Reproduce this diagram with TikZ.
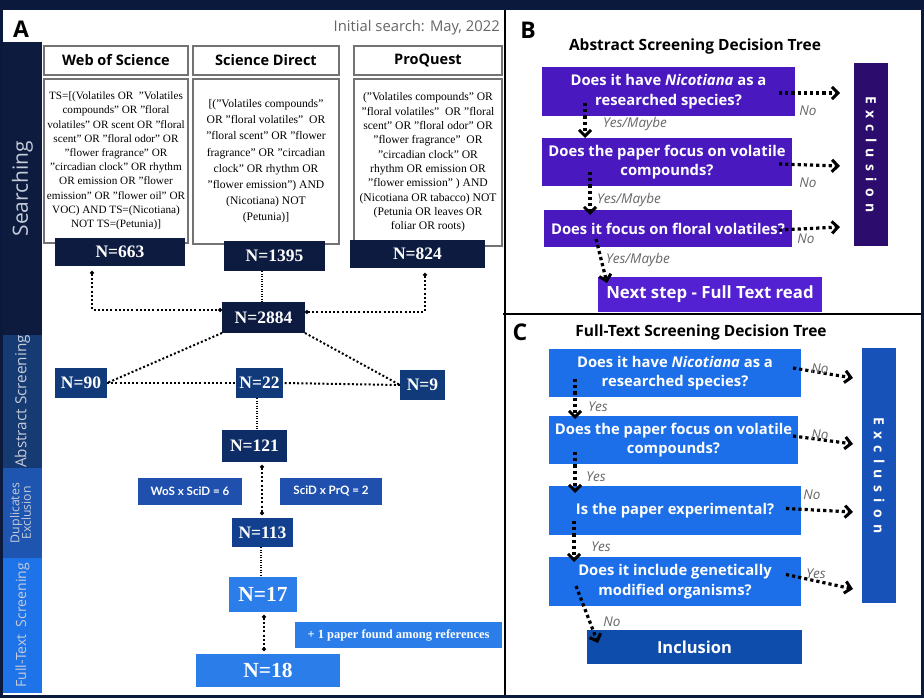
\documentclass[tikz,border=0pt]{standalone}
\usepackage{fontspec}
\setmainfont{Liberation Serif}
\setsansfont{Open Sans}
\newfontfamily\latofont{Lato}
\newfontfamily\exfont[LetterSpace=45]{Open Sans}
\usetikzlibrary{arrows.meta,calc}
\definecolor{frame}{HTML}{0B1A3C}
\definecolor{cSearch}{HTML}{0D1B3E}
\definecolor{cAbs}{HTML}{163A72}
\definecolor{cDup}{HTML}{1D55B0}
\definecolor{cFull}{HTML}{1F73E8}
\definecolor{navy}{HTML}{0C1B3F}
\definecolor{absblue}{HTML}{113A7B}
\definecolor{c121}{HTML}{0E2D66}
\definecolor{dupbox}{HTML}{1F50AE}
\definecolor{c113}{HTML}{12408E}
\definecolor{ftblue}{HTML}{2B7DEA}
\definecolor{purp}{HTML}{4A18BF}
\definecolor{purpD}{HTML}{2C0C6C}
\definecolor{purpN}{HTML}{5320D2}
\definecolor{cblue}{HTML}{1C6FE8}
\definecolor{cexc}{HTML}{1652B8}
\definecolor{cinc}{HTML}{0F4DAC}
\definecolor{labgray}{HTML}{666666}
\definecolor{sidetext}{HTML}{C5CBD8}
\newcommand{\mybox}[7]{\node[#6, minimum width={(#4-#2)*1pt}, minimum height={(#5-#3)*1pt}] (#1) at ({(#2+#4)/2},{(#3+#5)/2}) {#7};}
\tikzset{
  base/.style={inner sep=0pt, outer sep=0pt, align=center},
  side/.style={base, fill=#1, text=sidetext, font=\sffamily},
  titlebox/.style={base, draw=black!55, line width=1.5pt, fill=white, font=\sffamily\bfseries\fontsize{14.5}{17}\selectfont},
  qbox/.style={base, draw=black!55, line width=1.5pt, fill=white},
  nbox/.style={base, fill=#1, text=white, font=\bfseries\fontsize{17.5}{19}\selectfont},
  dbox/.style={base, fill=#1, text=white, font=\latofont\bfseries\fontsize{11.6}{13}\selectfont},
  qbx/.style={base, fill=#1, text=white, font=\sffamily\bfseries\fontsize{14.8}{19.5}\selectfont},
  exbar/.style={base, fill=#1, text=white, font=\exfont\bfseries\fontsize{14}{16}\selectfont},
  conA/.style={line width=2pt, dash pattern=on 2pt off 2.2pt},
  conT/.style={line width=1.2pt, dash pattern=on 1.2pt off 1.3pt},
  dotends/.style={{Circle[length=3.8pt]}-{Circle[length=3.8pt]}},
  arrB/.style={line width=3.2pt, dash pattern=on 3.2pt off 3pt, -{Straight Barb[length=6pt,width=12pt,line width=3pt]}},
  lab/.style={inner sep=0pt, text=labgray, font=\sffamily\itshape\fontsize{13.5}{15}\selectfont},
  panel/.style={inner sep=0pt, font=\sffamily\bfseries\fontsize{23}{25}\selectfont},
  ptitle/.style={inner sep=0pt, font=\sffamily\bfseries\fontsize{15.5}{18}\selectfont}
}
\begin{document}
\begin{tikzpicture}[x=1pt,y=-1pt]
\useasboundingbox (0,0) rectangle (924,698);
\fill[frame] (0,0) rectangle (924,698);
\fill[white] (3,10) rectangle (921,695);

% ---------- Panel A ----------
\mybox{sSearch}{3}{42}{42}{335}{side=cSearch}{\rotatebox{90}{\fontsize{21}{23}\selectfont Searching}}
\mybox{sAbs}{3}{335}{42}{468}{side=cAbs}{\rotatebox{90}{\fontsize{15.3}{17}\selectfont Abstract Screening}}
\mybox{sDup}{3}{468}{42}{558}{side=cDup}{\rotatebox{90}{\fontsize{12.3}{13.5}\selectfont\begin{tabular}{@{}c@{}}Duplicates\\[-2pt]Exclusion\end{tabular}}}
\mybox{sFull}{3}{558}{42}{693}{side=cFull}{\rotatebox{90}{\fontsize{14}{16}\selectfont Full-Text\ \ Screening}}

\node[panel] (A) at (21,29) {A};
\node[anchor=east, inner sep=0pt, text=labgray, font=\sffamily\fontsize{14.8}{16}\selectfont] (init) at (500,28) {Initial search: May, 2022};

\mybox{wosT}{44}{46}{188}{75}{titlebox}{Web of Science}
\mybox{sdT}{193}{46}{339}{75}{titlebox}{Science Direct}
\mybox{pqT}{354}{46}{502}{75}{titlebox}{ProQuest}

\mybox{wosQ}{44}{79}{188}{243}{qbox, font=\fontsize{11.2}{14.2}\selectfont}{TS=[(Volatiles OR \ "Volatiles\\compounds" OR "floral\\volatiles" OR scent OR "floral\\scent" OR "floral odor" OR\\"flower fragrance" OR\\"circadian clock" OR rhythm\\OR emission OR "flower\\emission" OR "flower oil" OR\\VOC) AND TS=(Nicotiana)\\NOT TS=(Petunia)]}
\mybox{sdQ}{193}{79}{339}{244}{qbox, font=\fontsize{11.6}{16.2}\selectfont}{[("Volatiles compounds"\\OR "floral volatiles" \ OR\\"floral scent" OR "flower\\fragrance" OR "circadian\\clock" OR rhythm OR\\"flower emission") AND\\(Nicotiana) NOT\\(Petunia)]}
\mybox{pqQ}{354}{79}{502}{246}{qbox, font=\fontsize{11.6}{14.3}\selectfont}{("Volatiles compounds" OR\\"floral volatiles" \ OR "floral\\scent" OR "floral odor" OR\\"flower fragrance" \ OR\\"circadian clock" OR\\rhythm OR emission OR\\"flower emission" ) AND\\(Nicotiana OR tabacco) NOT\\(Petunia OR leaves OR\\foliar OR roots)}

\mybox{n663}{55}{238}{185}{266}{nbox=navy}{N=663}
\mybox{n1395}{224}{241}{325}{271}{nbox=navy}{N=1395}
\mybox{n824}{350}{240}{485}{268}{nbox=navy}{N=824}
\mybox{n2884}{222}{302}{305}{333}{nbox=navy}{N=2884}
\mybox{n90}{55}{368}{107}{398}{nbox=absblue}{N=90}
\mybox{n22}{236}{368}{283}{398}{nbox=absblue}{N=22}
\mybox{n9}{400}{370}{445}{400}{nbox=absblue}{N=9}
\mybox{n121}{222}{430}{287}{462}{nbox=c121}{N=121}
\mybox{d1}{138}{478}{242}{505}{dbox=dupbox}{WoS x SciD = 6}
\mybox{d2}{280}{478}{382}{505}{dbox=dupbox}{SciD x PrQ = 2}
\mybox{n113}{232}{518}{293}{547}{nbox=c113}{N=113}
\mybox{n17}{229}{577}{297}{612}{nbox=ftblue, font=\bfseries\fontsize{21.5}{23}\selectfont}{N=17}
\mybox{ref}{295}{622}{502}{648}{nbox=ftblue, font=\bfseries\fontsize{12.5}{14}\selectfont}{+ 1 paper found among references}
\mybox{n18}{196}{654}{340}{687}{nbox=ftblue, font=\bfseries\fontsize{21.5}{23}\selectfont}{N=18}

\draw[conA, dotends] ([yshift=-5pt]n663.south -| 92,0) |- (n2884.west |- 0,310);
\draw[conT] (n1395.south -| 262,0) -- (n2884.north -| 262,0);
\draw[conA, dotends] ([yshift=-5pt]n824.south -| 425,0) |- (n2884.east |- 0,312);
\draw[conA] (n2884.south west) -- (n90.east);
\draw[conA] (n2884.south east) -- (n9.west);
\draw[conA] (n90.east) -- (n22.west);
\draw[conA] (n9.west) -- (n22.east);
\draw[conT] (n22.south -| 257,0) -- (n121.north -| 257,0);
\draw[conA, dotends] ([yshift=-3pt]n121.south -| 262,0) -- ([yshift=3pt]n113.north -| 262,0);
\draw[conT] (n113.south -| 261,0) -- (n17.north -| 261,0);
\draw[conA, dotends] ([yshift=-3pt]n17.south -| 264,0) -- ([yshift=3pt]n18.north -| 264,0);

% dividers
\draw[line width=1.6pt] (505,10) -- (505,695);
\draw[line width=1.2pt] (503,314) -- (921,314);

% ---------- Panel B ----------
\node[panel] (B) at (528,30) {B};
\node[ptitle] (bt) at (695,46) {Abstract Screening Decision Tree};
\mybox{b1}{542}{67}{795}{116}{qbx=purp}{Does it have \textit{Nicotiana} as a\\researched species?}
\mybox{b2}{542}{138}{792}{186}{qbx=purp}{Does the paper focus on volatile\\compounds?}
\mybox{b3}{544}{210}{792}{247}{qbx=purp}{Does it focus on floral volatiles?}
\mybox{bnext}{598}{277}{822}{312}{qbx=purpN, font=\sffamily\bfseries\fontsize{16.8}{19}\selectfont}{Next step - Full Text read}
\mybox{bex}{854}{63}{888}{246}{exbar=purpD}{\rotatebox{-90}{Exclusion}}

\draw[arrB] ([xshift=-16pt,yshift=-1.5pt]b1.east) -- ([xshift=-14pt]bex.west |- 0,93);
\draw[arrB] ([xshift=-13pt,yshift=-2pt]b2.east) -- ([xshift=-14pt]bex.west |- 0,166);
\draw[arrB] ([xshift=-13pt,yshift=-1.5pt]b3.east) -- ([xshift=-14pt]bex.west |- 0,227);
\node[lab] (bno1) at (808,111) {No};
\node[lab] (bno2) at (808,183) {No};
\node[lab] (bno3) at (806,239) {No};

\draw[arrB] (b1.south -| 585,0) ++(0,-13) -- (b2.north -| 585,0);
\draw[arrB] (b2.south -| 590,0) ++(0,-14) -- ([yshift=-5pt]b3.north -| 590,0);
\draw[arrB] (b3.south -| 596,0) ++(0,-8) -- ([yshift=-6pt]bnext.north -| 607,0);
\node[lab] (by1) at (635,124) {Yes/Maybe};
\node[lab] (by2) at (629,200) {Yes/Maybe};
\node[lab] (by3) at (638,260) {Yes/Maybe};

% ---------- Panel C ----------
\node[panel] (C) at (520,332) {C};
\node[ptitle] (ct) at (701,332) {Full-Text Screening Decision Tree};
\mybox{c1}{549}{349}{801}{397}{qbx=cblue}{Does it have \textit{Nicotiana} as a\\researched species?}
\mybox{c2}{549}{416}{798}{464}{qbx=cblue}{Does the paper focus on volatile\\compounds?}
\mybox{c3}{549}{486}{801}{535}{qbx=cblue}{Is the paper experimental?}
\mybox{c4}{549}{557}{801}{606}{qbx=cblue}{Does it include genetically\\modified organisms?}
\mybox{cinc}{587}{630}{802}{664}{qbx=cinc, font=\sffamily\bfseries\fontsize{16.5}{18}\selectfont}{Inclusion}
\mybox{cex}{862}{348}{896}{603}{exbar=cexc}{\rotatebox{-90}{Exclusion}}

\draw[arrB] ([xshift=-8pt,yshift=5pt]c1.east) -- ([xshift=-9pt]cex.west |- 0,378);
\draw[arrB] ([xshift=-5pt,yshift=4pt]c2.east) -- ([xshift=-9pt]cex.west |- 0,444);
\draw[arrB] ([xshift=-15pt,yshift=2pt]c3.east) -- ([xshift=-9pt]cex.west |- 0,512);
\draw[arrB] ([xshift=-15pt,yshift=7pt]c4.east) -- ([xshift=-9pt]cex.west |- 0,589);
\node[lab] (cno1) at (820,369) {No};
\node[lab] (cno2) at (820,435) {No};
\node[lab] (cno3) at (812,495) {No};
\node[lab] (cyes4) at (816,574) {Yes};

\draw[arrB] (c1.south -| 575,0) ++(0,-18) -- ([yshift=-3pt]c2.north -| 575,0);
\draw[arrB] (c2.south -| 575,0) ++(0,-12) -- ([yshift=-7pt]c3.north -| 575,0);
\draw[arrB] (c3.south -| 574,0) ++(0,-14) -- ([yshift=-5pt]c4.north -| 574,0);
\draw[arrB] (c4.south -| 576,0) ++(0,-20) -- ([yshift=-13pt]cinc.north -| 598,0);
\node[lab] (cy1) at (598,407) {Yes};
\node[lab] (cy2) at (596,477) {Yes};
\node[lab] (cy3) at (601,547) {Yes};
\node[lab] (cn4) at (612,622) {No};
\end{tikzpicture}
\end{document}
